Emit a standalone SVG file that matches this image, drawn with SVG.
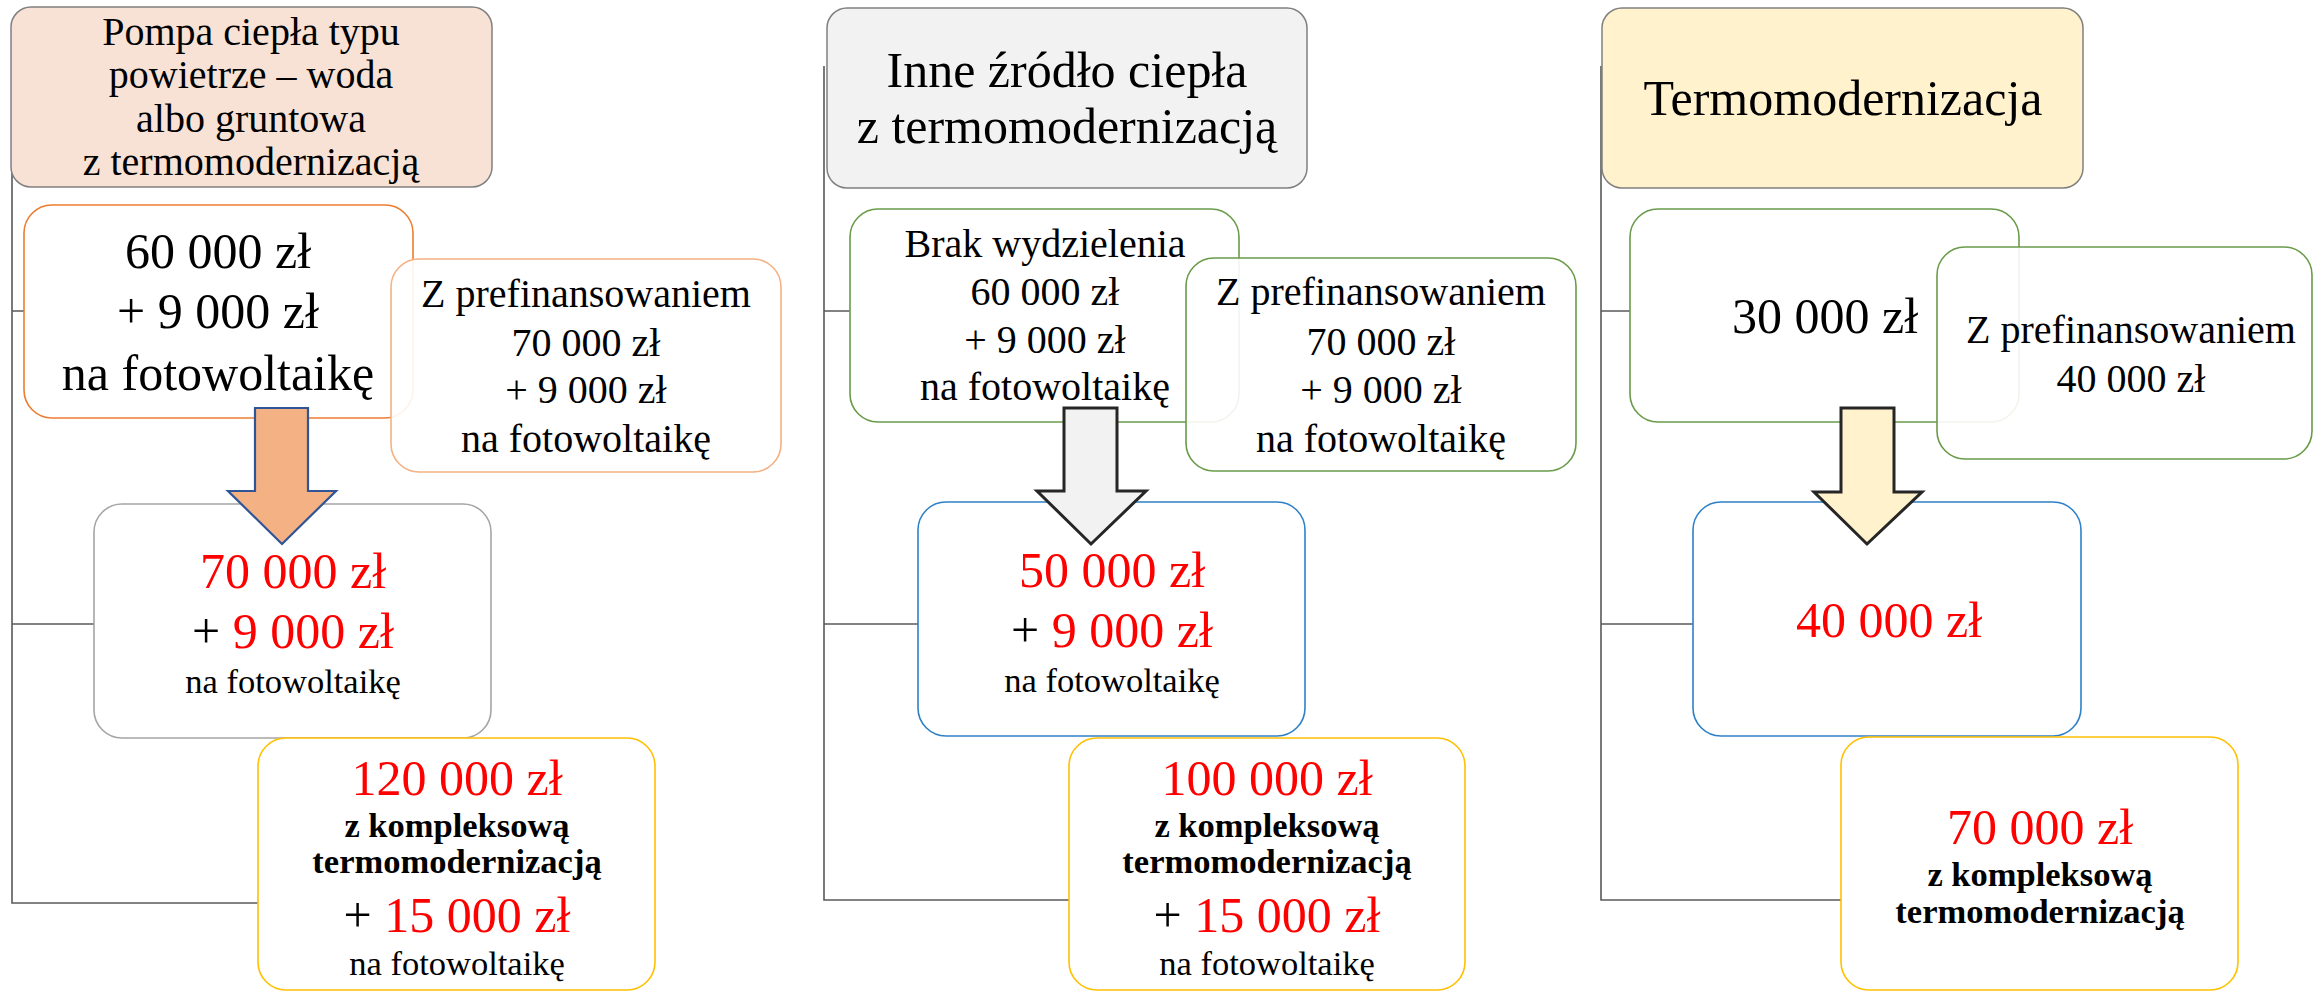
<svg xmlns="http://www.w3.org/2000/svg" width="2313" height="991" viewBox="0 0 2313 991">
<style>
  text { font-family: "Liberation Serif", "Times New Roman", serif; text-anchor: middle; fill: #000; }
  .f50 { font-size: 50px; }
  .f40 { font-size: 40px; }
  .f34 { font-size: 34.5px; }
  .b { font-weight: bold; }
  .red { fill: #FF0000; }
  .hdr { stroke: #808080; stroke-width: 1.5; }
  .box { fill: #FFFFFF; stroke-width: 1.6; }
  .over { fill: #FFFFFF; fill-opacity: 0.9; stroke-width: 1.6; }
  .conn { fill: none; stroke: #595959; stroke-width: 1.6; }
</style>
<rect width="2313" height="991" fill="#FFFFFF"/>

<g id="connectors">
  <path class="conn" d="M12,60 V903 H258 M12,311 H24 M12,624 H94"/>
  <path class="conn" d="M824,66 V900 H1069 M824,311 H850 M824,624 H918"/>
  <path class="conn" d="M1601,66 V900 H1841 M1601,311 H1630 M1601,624 H1693"/>
</g>

<!-- Column 1 -->
<g id="header1">
  <rect class="hdr" x="11" y="7" width="481" height="180" rx="20" fill="#F8E2D5"/>
  <text class="f40" x="251" y="45">Pompa ciepła typu</text>
  <text class="f40" x="251" y="88">powietrze – woda</text>
  <text class="f40" x="251" y="132">albo gruntowa</text>
  <text class="f40" x="251" y="175">z termomodernizacją</text>
</g>
<g id="c1-base">
  <rect class="box" x="24" y="205" width="389" height="213" rx="28" stroke="#ED7D31"/>
  <text class="f50" x="218" y="268">60 000 zł</text>
  <text class="f50" x="218" y="328">+ 9 000 zł</text>
  <text class="f50" x="218" y="390">na fotowoltaikę</text>
</g>
<g id="c1-prefin">
  <rect class="over" x="391" y="259" width="390" height="213" rx="28" stroke="#F4B183"/>
  <text class="f40" x="586" y="307">Z prefinansowaniem</text>
  <text class="f40" x="586" y="356">70 000 zł</text>
  <text class="f40" x="586" y="403">+ 9 000 zł</text>
  <text class="f40" x="586" y="452">na fotowoltaikę</text>
</g>
<g id="c1-result">
  <rect class="box" x="94" y="504" width="397" height="234" rx="28" stroke="#A5A5A5"/>
  <text class="f50 red" x="293" y="588">70 000 zł</text>
  <text class="f50" x="293" y="648">+ <tspan class="red">9 000 zł</tspan></text>
  <text class="f34" x="293" y="693">na fotowoltaikę</text>
</g>
<g id="c1-complex">
  <rect class="box" x="258" y="738" width="397" height="252" rx="28" stroke="#FFC000"/>
  <text class="f50 red" x="457" y="795">120 000 zł</text>
  <text class="f34 b" x="457" y="837">z kompleksową</text>
  <text class="f34 b" x="457" y="873">termomodernizacją</text>
  <text class="f50" x="457" y="932">+ <tspan class="red">15 000 zł</tspan></text>
  <text class="f34" x="457" y="975">na fotowoltaikę</text>
</g>
<g id="c1-arrow">
  <polygon points="255,408 308,408 308,491 336,491 282,544 228,491 255,491" fill="#F4B183" stroke="#2F5597" stroke-width="2.2" stroke-linejoin="miter"/>
</g>

<!-- Column 2 -->
<g id="header2">
  <rect class="hdr" x="827" y="8" width="480" height="180" rx="20" fill="#F2F2F2"/>
  <text class="f50" x="1067" y="87">Inne źródło ciepła</text>
  <text class="f50" x="1067" y="143">z termomodernizacją</text>
</g>
<g id="c2-base">
  <rect class="box" x="850" y="209" width="389" height="213" rx="28" stroke="#6A9B4A"/>
  <text class="f40" x="1045" y="257">Brak wydzielenia</text>
  <text class="f40" x="1045" y="305">60 000 zł</text>
  <text class="f40" x="1045" y="353">+ 9 000 zł</text>
  <text class="f40" x="1045" y="400">na fotowoltaikę</text>
</g>
<g id="c2-prefin">
  <rect class="over" x="1186" y="258" width="390" height="213" rx="28" stroke="#6A9B4A"/>
  <text class="f40" x="1381" y="305">Z prefinansowaniem</text>
  <text class="f40" x="1381" y="355">70 000 zł</text>
  <text class="f40" x="1381" y="403">+ 9 000 zł</text>
  <text class="f40" x="1381" y="452">na fotowoltaikę</text>
</g>
<g id="c2-result">
  <rect class="box" x="918" y="502" width="387" height="234" rx="28" stroke="#2E80C8"/>
  <text class="f50 red" x="1112" y="587">50 000 zł</text>
  <text class="f50" x="1112" y="647">+ <tspan class="red">9 000 zł</tspan></text>
  <text class="f34" x="1112" y="692">na fotowoltaikę</text>
</g>
<g id="c2-complex">
  <rect class="box" x="1069" y="738" width="396" height="252" rx="28" stroke="#FFC000"/>
  <text class="f50 red" x="1267" y="795">100 000 zł</text>
  <text class="f34 b" x="1267" y="837">z kompleksową</text>
  <text class="f34 b" x="1267" y="873">termomodernizacją</text>
  <text class="f50" x="1267" y="932">+ <tspan class="red">15 000 zł</tspan></text>
  <text class="f34" x="1267" y="975">na fotowoltaikę</text>
</g>
<g id="c2-arrow">
  <polygon points="1064,408 1117,408 1117,491 1146,491 1091,544 1037,491 1064,491" fill="#F2F2F2" stroke="#262626" stroke-width="3" stroke-linejoin="miter"/>
</g>

<!-- Column 3 -->
<g id="header3">
  <rect class="hdr" x="1602" y="8" width="481" height="180" rx="20" fill="#FFF2CC"/>
  <text class="f50" x="1843" y="115">Termomodernizacja</text>
</g>
<g id="c3-base">
  <rect class="box" x="1630" y="209" width="389" height="213" rx="28" stroke="#6A9B4A"/>
  <text class="f50" x="1825" y="333">30 000 zł</text>
</g>
<g id="c3-prefin">
  <rect class="over" x="1937" y="247" width="375" height="212" rx="28" stroke="#6A9B4A"/>
  <text class="f40" x="2131" y="343">Z prefinansowaniem</text>
  <text class="f40" x="2131" y="392">40 000 zł</text>
</g>
<g id="c3-result">
  <rect class="box" x="1693" y="502" width="388" height="234" rx="28" stroke="#2E80C8"/>
  <text class="f50 red" x="1889" y="637">40 000 zł</text>
</g>
<g id="c3-complex">
  <rect class="box" x="1841" y="737" width="397" height="253" rx="28" stroke="#FFC000"/>
  <text class="f50 red" x="2040" y="844">70 000 zł</text>
  <text class="f34 b" x="2040" y="886">z kompleksową</text>
  <text class="f34 b" x="2040" y="923">termomodernizacją</text>
</g>
<g id="c3-arrow">
  <polygon points="1841,408 1894,408 1894,492 1922,492 1867,544 1814,492 1841,492" fill="#FFF2CC" stroke="#262626" stroke-width="3" stroke-linejoin="miter"/>
</g>
</svg>
